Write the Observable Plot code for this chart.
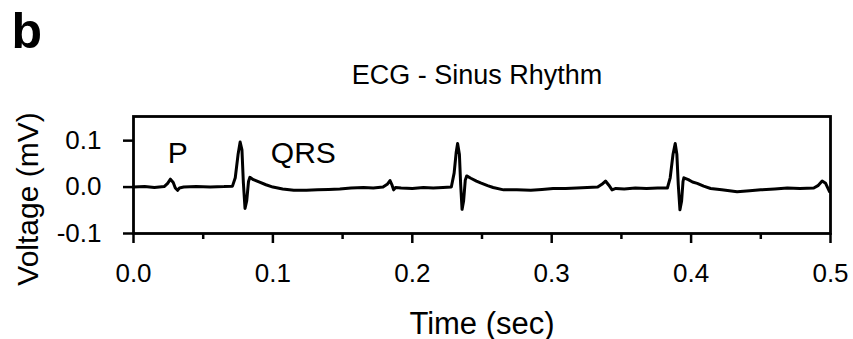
<!DOCTYPE html>
<html>
<head>
<meta charset="utf-8">
<script src="https://cdn.jsdelivr.net/npm/d3@7"></script>
<script src="https://cdn.jsdelivr.net/npm/@observablehq/plot@0.6"></script>
<style>
  html, body { margin: 0; padding: 0; background: #fff; }
  #chart { width: 853px; height: 339px; }
</style>
</head>
<body>
<div id="chart"></div>
<script>
// ECG sample times (sec)
const time = [
  0.000, 0.008, 0.015, 0.022, 0.0245, 0.0265, 0.0285, 0.030, 0.0316, 0.033, 0.036,
  0.045, 0.055, 0.065, 0.071, 0.073, 0.075, 0.0765, 0.0778, 0.0788, 0.0800, 0.0812,
  0.0825, 0.0835, 0.086, 0.090, 0.095, 0.100, 0.107, 0.115, 0.124, 0.132, 0.140,
  0.148, 0.156, 0.165, 0.172, 0.179, 0.182, 0.184, 0.1855, 0.1866, 0.188, 0.192,
  0.200, 0.208, 0.215, 0.222, 0.228, 0.230, 0.2315, 0.2325, 0.2338, 0.2347, 0.2357,
  0.2368, 0.2380, 0.239, 0.242, 0.246, 0.249, 0.254, 0.258, 0.2655, 0.275, 0.285,
  0.293, 0.301, 0.310, 0.318, 0.3255, 0.333, 0.336, 0.3386, 0.341, 0.3433, 0.346,
  0.352, 0.360, 0.368, 0.376, 0.383, 0.385, 0.387, 0.3886, 0.3898, 0.3908, 0.392,
  0.3932, 0.3942, 0.3948, 0.398, 0.401, 0.4044, 0.409, 0.414, 0.422, 0.433, 0.442,
  0.450, 0.460, 0.469, 0.478, 0.488, 0.491, 0.494, 0.4965, 0.4993
];
// ECG voltage (mV)
const voltage = [
  0.000, 0.001, -0.001, 0.001, 0.008, 0.017, 0.010, -0.002, -0.007, -0.002, 0.000,
  0.001, 0.000, 0.001, 0.002, 0.020, 0.070, 0.097, 0.080, 0.010, -0.046, -0.030,
  0.012, 0.021, 0.016, 0.011, 0.005, 0.000, -0.004, -0.007, -0.007, -0.006, -0.005,
  -0.004, -0.002, -0.001, -0.002, 0.000, 0.006, 0.014, 0.004, -0.006, -0.001, -0.002,
  -0.003, -0.001, -0.002, -0.001, 0.000, 0.030, 0.075, 0.094, 0.070, 0.005, -0.048,
  -0.030, 0.015, 0.024, 0.019, 0.013, 0.009, 0.003, -0.001, -0.006, -0.006, -0.007,
  -0.005, -0.003, -0.003, -0.002, -0.001, 0.000, 0.006, 0.013, 0.004, -0.006, -0.003,
  -0.004, -0.002, -0.003, -0.002, -0.002, 0.020, 0.070, 0.094, 0.070, 0.005, -0.049,
  -0.030, 0.012, 0.020, 0.016, 0.011, 0.008, 0.002, -0.003, -0.006, -0.010, -0.008,
  -0.006, -0.004, -0.002, -0.003, -0.002, 0.003, 0.013, 0.008, -0.010
];
const xTicks = [0, 0.1, 0.2, 0.3, 0.4, 0.5];
const xMinorTicks = [0.05, 0.15, 0.25, 0.35, 0.45];
const yTicks = [-0.1, 0.0, 0.1];
const annotations = ["P", "QRS"];
const annotationTime = [0.0245, 0.0985];
const annotationVolt = [0.0516, 0.0525];

const font = "'Liberation Sans', Arial, Helvetica, sans-serif";

const chart = Plot.plot({
  width: 853,
  height: 339,
  marginTop: 116,
  marginLeft: 133,
  marginRight: 23,
  marginBottom: 106,
  style: { fontFamily: font, fontSize: "26px", color: "#000", background: "#fff" },
  x: { domain: [0, 0.5] },
  y: { domain: [-0.1, 0.152] },
  marks: [
    Plot.axisX(xMinorTicks, { tickSize: 6, strokeWidth: 2.5, tickFormat: () => "", label: null }),
    Plot.axisX(xTicks, { tickSize: 10, tickPadding: 20, strokeWidth: 2.5, tickFormat: d => d.toFixed(1), label: null, fontSize: 26 }),
    Plot.axisY(yTicks, { tickSize: 10, tickPadding: 22, strokeWidth: 2.5, tickFormat: d => d.toFixed(1), label: null, fontSize: 26 }),
    Plot.frame({ strokeWidth: 2.8 }),
    Plot.line(time, { x: time, y: voltage, stroke: "#000", strokeWidth: 3, strokeLinejoin: "round", curve: "linear" }),
    Plot.text(annotations, { x: annotationTime, y: annotationVolt, text: d => d, fontSize: 30, textAnchor: "start", lineAnchor: "bottom" }),
    Plot.text(["b"], { frameAnchor: "top-left", dx: -122, dy: -69, fontSize: 50, fontWeight: "bold", textAnchor: "start", lineAnchor: "bottom" }),
    Plot.text(["ECG - Sinus Rhythm"], { frameAnchor: "top", dx: -5, dy: -33, fontSize: 27, textAnchor: "middle", lineAnchor: "bottom" }),
    Plot.text(["Voltage (mV)"], { frameAnchor: "left", rotate: -90, dx: -96, dy: 24, fontSize: 30, textAnchor: "middle", lineAnchor: "bottom" }),
    Plot.text(["Time (sec)"], { frameAnchor: "bottom", dx: 0, dy: 100, fontSize: 31, textAnchor: "middle", lineAnchor: "bottom" })
  ]
});
document.getElementById("chart").appendChild(chart);
</script>
</body>
</html>
